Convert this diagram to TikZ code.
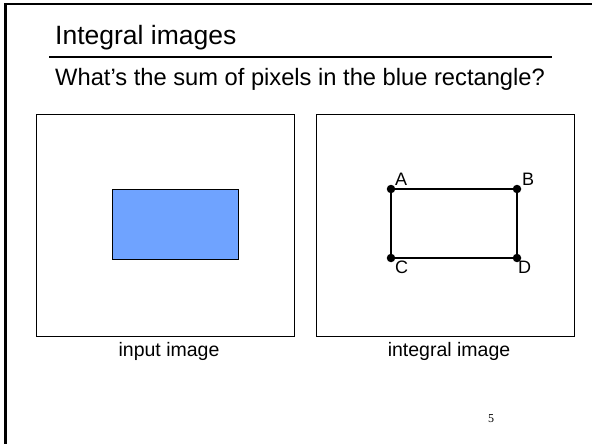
\documentclass[tikz,border=0pt]{standalone}
\usepackage{fontspec}
\setmainfont{Liberation Sans}
\newfontfamily\seriffont{Liberation Serif}
\definecolor{rectblue}{RGB}{111,163,255}
\begin{document}
\begin{tikzpicture}[x=1pt,y=-1pt,
  panel/.style={draw=black,line width=0.9pt,minimum width=258pt,minimum height=222pt,inner sep=0pt,anchor=north west},
  bluebox/.style={draw=black,fill=rectblue,line width=1.3pt,minimum width=126pt,minimum height=70pt,inner sep=0pt,anchor=north west},
  corner/.style={circle,fill=black,inner sep=0pt,minimum size=8.5pt},
  cornerlbl/.style={font=\fontsize{18}{21}\selectfont,anchor=base west,inner sep=0pt},
  caption/.style={font=\fontsize{19.5}{23}\selectfont,anchor=base,inner sep=0pt},
  edge/.style={line width=1.3pt}]
\useasboundingbox (0,0) rectangle (592,444);
\fill[white] (0,0) rectangle (592,444);
% slide frame
\coordinate (ftl) at (5.5,4);
\coordinate (ftr) at (592,4);
\coordinate (fbl) at (5.5,444);
\draw[line width=2.6pt] (fbl) -- (ftl) -- (ftr);
% title
\node[anchor=base west,inner sep=0pt,font=\fontsize{26.5}{31}\selectfont] (title) at (55,44.5) {Integral images};
\coordinate (ul1) at (49,57);
\coordinate (ul2) at (552,57);
\draw[line width=2pt] (ul1) -- (ul2);
\node[anchor=base west,inner sep=0pt,font=\fontsize{23.7}{28}\selectfont] (question) at (55,85) {What’s the sum of pixels in the blue rectangle?};
% panels
\node[panel] (left) at (36,114) {};
\node[panel] (right) at (316,114) {};
\node[bluebox] (blue) at (112,189) {};
\node[caption] (lcap) at (169,356) {input image};
\node[caption] (rcap) at (449,356) {integral image};
% integral rectangle
\node[corner] (A) at (391,189) {};
\node[corner] (B) at (517,189) {};
\node[corner] (C) at (391,258) {};
\node[corner] (D) at (517,258) {};
\draw[edge] (A) -- (B) -- (D) -- (C) -- (A);
\node[cornerlbl] (la) at (395,185) {A};
\node[cornerlbl] (lb) at (522,185) {B};
\node[cornerlbl] (lc) at (395,273) {C};
\node[cornerlbl] (ld) at (518,273) {D};
% page number
\node[anchor=base,inner sep=0pt,font=\seriffont\fontsize{12}{14}\selectfont] (page) at (491,422) {5};
\end{tikzpicture}
\end{document}
